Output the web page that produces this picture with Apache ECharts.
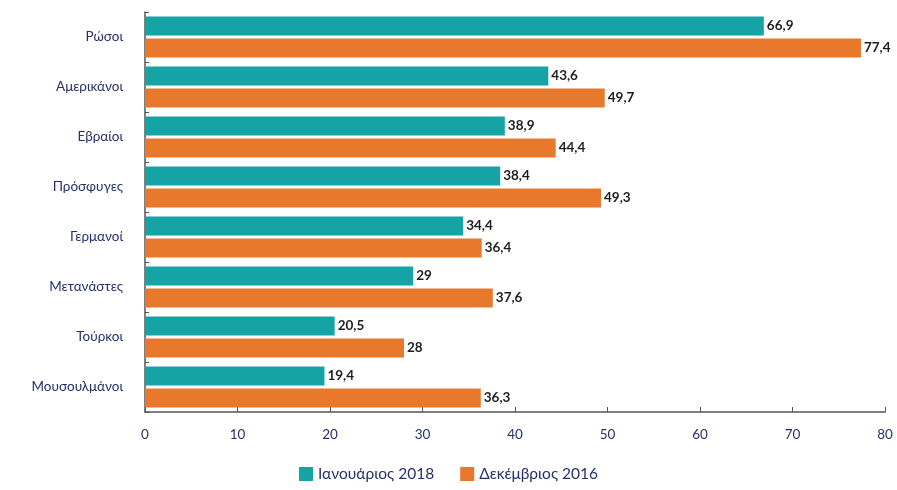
<!DOCTYPE html>
<html lang="el">
<head>
  <meta charset="UTF-8">
  <title>Ρώσοι, Αμερικάνοι...</title>
  <script src="https://cdn.jsdelivr.net/npm/echarts@6/dist/echarts.min.js"></script>
  <style>
    html, body { margin: 0; padding: 0; background: #fff; }
    #chart { width: 897px; height: 490px; }
  </style>
</head>
<body>
  <div id="chart"></div>
  <script>
    // δεδομένα
    var categories = ['Ρώσοι', 'Αμερικάνοι', 'Εβραίοι', 'Πρόσφυγες', 'Γερμανοί', 'Μετανάστες', 'Τούρκοι', 'Μουσουλμάνοι']
    var jan2018 = [66.9, 43.6, 38.9, 38.4, 34.4, 29, 20.5, 19.4]
    var dec2016 = [77.4, 49.7, 44.4, 49.3, 36.4, 37.6, 28, 36.3]
    var seriesNames = ['Ιανουάριος 2018', 'Δεκέμβριος 2016']

    var chart = echarts.init(document.getElementById('chart'))

    var textColor = '#26306a'
    var fontFamily = 'Lato, "Open Sans", sans-serif'

    // ετικέτα τιμής με κόμμα ως δεκαδικό
    var valueLabel = {
      show: true,
      position: 'right',
      distance: 3,
      color: '#1e1e1e',
      fontWeight: 'bold',
      fontSize: 13.5,
      fontFamily: fontFamily,
      formatter: function (p) { return String(p.value).replace('.', ',') }
    }

    chart.setOption({
      animation: false,
      backgroundColor: '#fff',
      color: ['#16a3a6', '#e8782c'],
      grid: { left: 145, right: 12, top: 12, bottom: 78 },
      legend: {
        bottom: 3,
        left: 'center',
        itemWidth: 14,
        itemHeight: 14,
        itemGap: 26,
        icon: 'rect',
        textStyle: { color: textColor, fontSize: 15.5, fontFamily: fontFamily },
        data: seriesNames
      },
      xAxis: {
        type: 'value',
        min: 0,
        max: 80,
        interval: 10,
        axisLine: { show: true, lineStyle: { color: '#555', width: 1.5 } },
        axisTick: { show: true, inside: true, length: 5, lineStyle: { color: '#555' } },
        splitLine: { show: false },
        axisLabel: { color: textColor, fontSize: 13.5, margin: 16, fontFamily: fontFamily }
      },
      yAxis: {
        type: 'category',
        inverse: true,
        data: categories,
        axisLine: { show: true, lineStyle: { color: '#555', width: 1.5 } },
        axisTick: { show: true, inside: true, length: 4, lineStyle: { color: '#555' } },
        axisLabel: { color: textColor, fontSize: 13.5, margin: 22, fontFamily: fontFamily }
      },
      series: [
        {
          name: seriesNames[0],
          type: 'bar',
          data: jan2018,
          barWidth: 19,
          barGap: '15%',
          label: valueLabel
        },
        {
          name: seriesNames[1],
          type: 'bar',
          data: dec2016,
          barWidth: 19,
          label: valueLabel
        }
      ]
    })
  </script>
</body>
</html>
